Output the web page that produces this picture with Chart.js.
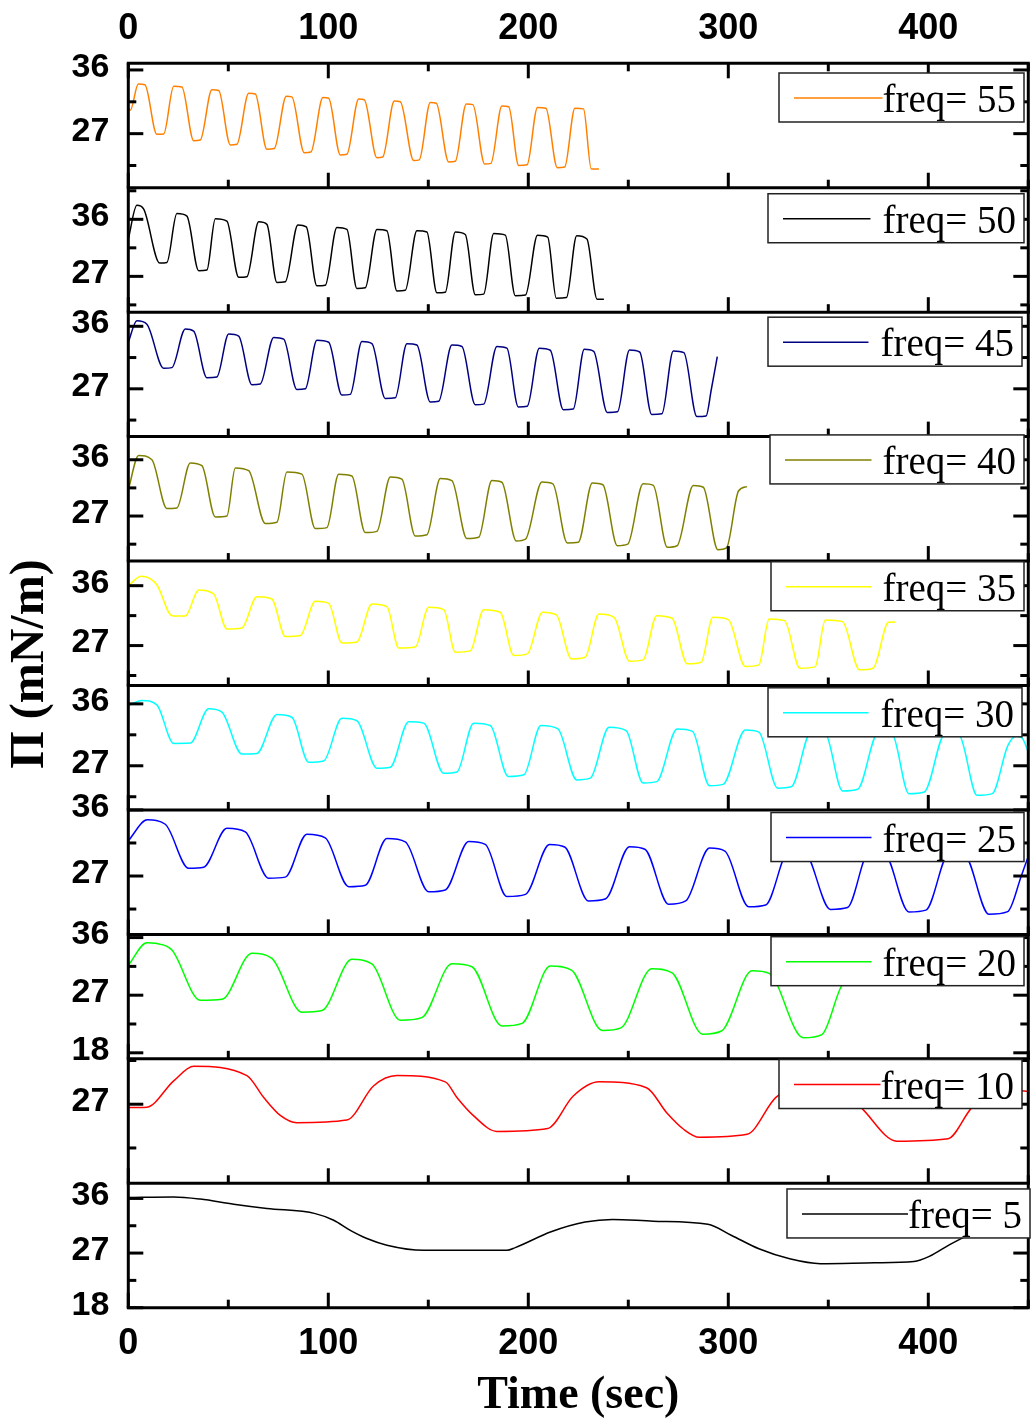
<!DOCTYPE html>
<html>
<head>
<meta charset="utf-8">
<title>Surface pressure vs time</title>
<script src="https://cdn.jsdelivr.net/npm/chart.js@4.4.0/dist/chart.umd.min.js"></script>
<style>
  html, body { margin: 0; padding: 0; background: #fff; }
  #wrap { width: 1033px; height: 1421px; }
</style>
</head>
<body>
<div id="wrap"><canvas id="chart" width="1033" height="1421"></canvas></div>
<script>
// panels, top to bottom
const freqs = [55, 50, 45, 40, 35, 30, 25, 20, 10, 5];
const colors = ['#ff8000', '#000000', '#000080', '#808000', '#ffff00',
                '#00ffff', '#0000ff', '#00ff00', '#ff0000', '#000000'];

// y range of every panel (mN/m)
const yMin = [19.36, 21.35, 20.12, 19.8, 21.0, 20.58, 19.05, 17.06, 18.87, 18.0];
const yMax = [36.94, 40.98, 38.03, 39.7, 39.7, 38.67, 36.0, 36.5, 31.67, 38.5];

const yMarks = [18, 22.5, 27, 31.5, 36, 40.5];
const yLabels = [18, 27, 36];
const xMarks = [0, 50, 100, 150, 200, 250, 300, 350, 400, 450];
const xLabels = [0, 100, 200, 300, 400];

// [time (sec), pressure (mN/m)]
const freq55 = [[0,30.6],[1,30.3],[5,34.0],[8.3,33.9],[14.3,26.9],[17.7,26.95],[22.7,33.7],[26.8,33.6],
  [32.7,26.0],[36,26.1],[41.8,33.2],[45.2,33.1],[51,25.4],[54.3,25.5],[60.2,32.7],[63.5,32.6],
  [69.3,24.8],[73,24.9],[79,32.3],[81.8,32.2],[88,24.3],[91.3,24.4],[97.3,32.1],[100.2,32.0],
  [106,24.0],[109.3,24.1],[115.2,31.9],[118,31.8],[124.3,23.6],[127.2,23.7],[133,31.6],[136,31.5],
  [142.7,23.2],[145.5,23.3],[151,31.4],[154,31.3],[160.2,23.0],[163.5,23.1],[169,31.2],[172.3,31.1],
  [178.2,22.7],[181.3,22.8],[186.8,30.9],[190.2,30.8],[195.2,22.5],[199.4,22.6],[204.6,30.7],[208.8,30.6],
  [214.5,22.2],[218.2,22.3],[223.3,30.6],[227.6,30.5],[231.5,22.0],[235.3,22.0]];

const freq50 = [[0,32.9],[4.3,38.2],[7.7,37.6],[15.7,29.1],[19.3,29.2],[24.3,36.9],[29.3,36.5],
  [35.2,27.9],[39.3,28.0],[43.5,36.1],[49.3,35.7],[55.2,26.85],[59.3,26.95],[65.2,35.6],[69.3,35.2],
  [74.3,26.05],[78.5,26.15],[84.8,35.1],[89,34.8],[94.3,25.5],[98.5,25.6],[104.3,34.7],[109.3,34.4],
  [114.3,25.1],[118.5,25.2],[124.3,34.4],[129.3,34.2],[134.3,24.7],[138.5,24.8],[144.3,34.2],[149.3,34.0],
  [154.3,24.4],[158.5,24.5],[163.5,34.0],[168.5,33.6],[173.5,24.1],[177.7,24.2],[182.7,33.75],[188.5,33.5],
  [193.5,23.95],[198.6,24.05],[204.6,33.5],[209.7,33.2],[214,23.55],[219.1,23.65],[224.2,33.4],[229.3,32.9],
  [234.4,23.4],[237.8,23.4]];

const freq45 = [[0,33.7],[4.3,36.8],[9.3,36.3],[17.7,29.95],[21.8,30.05],[28.5,35.6],[32.7,35.3],
  [39.3,28.6],[44.3,28.7],[50.2,34.9],[55.2,34.6],[61.8,27.6],[66,27.7],[72.7,34.4],[77.7,34.15],
  [84.3,26.9],[88.5,27.0],[94.3,34.0],[100.2,33.7],[106.8,26.1],[111,26.2],[116.8,33.8],[121.8,33.5],
  [128.5,25.6],[133.5,25.7],[139.3,33.5],[144.3,33.3],[151,25.1],[155.2,25.2],[161.8,33.3],[166.8,33.1],
  [173.5,24.7],[177.7,24.8],[184.3,33.1],[189.3,32.85],[195,24.4],[199.5,24.5],[205.5,32.85],[211,32.55],
  [217.5,24.0],[222.5,24.1],[228,32.7],[232.7,32.4],[239.5,23.6],[244.6,23.7],[250.6,32.6],[255.7,32.3],
  [261.7,23.3],[266.8,23.4],[272.5,32.45],[277.8,32.2],[284.3,23.0],[288.9,23.1],[291.5,26.9],[294.5,31.65]];

const freq40 = [[0,31.2],[5.2,36.7],[11.8,36.0],[19.3,28.2],[24.3,28.3],[31,35.5],[36.8,35.05],
  [43.5,26.85],[49.3,27.0],[53.5,34.7],[60.2,34.25],[68.5,25.8],[74.3,26.0],[79.3,34.05],[86.8,33.7],
  [93.5,25.0],[99.3,25.15],[105.2,33.7],[111.8,33.4],[118.5,24.35],[124.3,24.55],[131,33.25],[136.8,32.9],
  [143.5,23.8],[149.3,24.0],[156,33.0],[161.8,32.65],[169.3,23.4],[175.2,23.6],[181.8,32.7],[186.8,32.4],
  [194,23.0],[198.6,23.3],[206.8,32.45],[212.3,32.15],[219.5,22.7],[225,22.8],[232,32.3],[237.3,32.0],
  [244.5,22.25],[249.7,22.5],[257.4,32.15],[262.5,31.9],[269.5,22.0],[274.4,22.25],[282.5,31.9],[287.5,31.6],
  [294.8,21.6],[299.1,21.9],[305.1,31.0],[309.4,31.7]];

const freq35 = [[0,36.0],[6.5,37.4],[14.3,36.1],[21.8,31.5],[28.5,31.45],[35.2,35.35],[42.7,34.75],
  [49.3,29.5],[56.8,29.65],[64.3,34.35],[71.8,34.0],[78.5,28.35],[86,28.5],[93.5,33.65],[100.2,33.35],
  [106.8,27.4],[114.3,27.55],[121.8,33.25],[129.3,32.85],[135.2,26.65],[143.5,26.8],[150.2,32.75],[157.7,32.4],
  [163.5,26.0],[171,26.2],[177.7,32.4],[186,32.0],[192.7,25.5],[199.5,25.75],[207.1,32.0],[214,31.6],
  [221.6,25.0],[228.4,25.25],[235.3,31.75],[242.9,31.25],[250.6,24.65],[257.4,24.85],[264.2,31.5],[271.9,31.1],
  [279.5,24.25],[286.4,24.5],[292.3,31.25],[300,30.9],[308.5,23.85],[315.3,24.1],[320.4,31.0],[328.1,30.75],
  [335.8,23.6],[343.4,23.8],[348.5,30.85],[357.1,30.6],[365.6,23.35],[372.4,23.6],[380.1,30.5],[383.5,30.55]];

const freq30 = [[0,35.75],[6.8,36.5],[14.3,35.85],[22.7,30.25],[31,30.3],[40.2,35.3],[46.8,34.8],
  [56.8,28.7],[64.3,28.8],[74.3,34.45],[81.8,34.05],[90.2,27.5],[97.7,27.7],[106.8,33.9],[114.3,33.55],
  [124.3,26.65],[131,26.8],[140.2,33.4],[147.7,33.2],[157.7,25.9],[164.3,26.1],[172.7,33.2],[181,32.85],
  [190,25.45],[197.8,25.7],[206.3,32.85],[214.8,32.35],[224.2,24.95],[231,25.2],[240.4,32.6],[248.9,32.1],
  [257.4,24.5],[264.2,24.7],[274.4,32.35],[282.1,32.0],[290.6,24.1],[297.4,24.3],[308.5,32.2],[315.3,31.9],
  [324.7,23.75],[331.5,23.95],[341.5,32.0],[348.5,31.7],[357.1,23.35],[364.7,23.6],[375,31.85],[382,31.55],
  [390.3,22.95],[398,23.2],[408.5,31.7],[415.5,31.4],[424.4,22.7],[432,22.95],[439.7,29.9],[444,31.3],
  [447,31.0],[450,29.0]];

const freq25 = [[0,31.8],[9.5,34.65],[18.5,34.05],[30.2,28.05],[37.7,28.2],[49.3,33.5],[58.5,33.0],
  [70.2,26.7],[78.5,26.85],[89.3,32.7],[98.5,32.2],[110.2,25.55],[118.5,25.75],[129.3,32.1],[138.5,31.65],
  [150.2,24.85],[158.5,25.1],[170.2,31.7],[178.5,31.3],[189.3,24.2],[198.6,24.5],[210.6,31.3],[218.2,30.95],
  [230.1,23.6],[238.7,23.9],[250.6,31.0],[258.3,30.65],[270.2,23.15],[278.7,23.6],[290.6,30.8],[298.3,30.4],
  [310.2,22.8],[318.7,23.05],[330.6,30.6],[338.3,30.25],[351.1,22.45],[359.6,22.7],[370.6,30.4],[378.3,30.05],
  [390.3,22.1],[398.8,22.35],[410.6,30.2],[418.3,29.85],[430.3,21.8],[439.7,22.15],[446.5,27.0],[450,29.7]];

const freq20 = [[0,31.67],[9.3,35.2],[13.5,35.1],[21.8,34.05],[36,26.2],[46.8,26.35],[61.8,33.55],
  [71.8,32.75],[86.8,24.35],[96.8,24.6],[111.8,32.6],[121.8,31.9],[136,23.1],[146.8,23.5],[161.8,31.9],
  [171.8,31.45],[186.8,22.2],[196.9,22.6],[211,31.55],[221.6,30.9],[237,21.5],[246.3,21.9],[261.7,31.15],
  [271.9,30.5],[287.2,20.9],[296.6,21.4],[311.9,30.8],[320.4,30.4],[337.5,20.35],[346.8,20.85],[356.2,28.2],
  [361,30.3]];

const freq10 = [[0,26.65],[9.3,26.7],[22.7,29.4],[32.7,30.9],[59.3,29.95],[67.7,27.7],[76,25.85],
  [84.3,25.1],[109.3,25.37],[122.7,28.9],[134.3,29.95],[158.5,29.3],[164.3,27.7],[172.7,25.8],[184.3,24.2],
  [209.7,24.5],[222.5,27.85],[235.3,29.3],[259.1,28.7],[269.3,26.1],[277.8,24.4],[285.5,23.6],[309.4,23.9],
  [323.8,27.7],[336.5,28.9],[357,28.4],[366.4,26.65],[384.3,23.2],[409.9,23.45],[421.8,26.65],[437,28.6],
  [443.5,28.45],[450,28.3]];

const freq5 = [[0,36.15],[22.7,36.25],[36,35.9],[52.7,35.05],[69.3,34.35],[93.5,33.5],[102.7,32.4],
  [111,30.75],[119.3,29.4],[129.3,28.3],[147.7,27.45],[189.3,27.45],[193.5,27.9],[211.4,30.5],[228.4,32.1],
  [242.1,32.55],[262.5,32.25],[289.8,31.75],[301.7,29.9],[315.3,27.7],[330.7,26.05],[346,25.25],[373.2,25.4],
  [392.8,25.6],[400.5,26.45],[410.7,28.4],[420,30.0]];

const series = [freq55, freq50, freq45, freq40, freq35, freq30, freq25, freq20, freq10, freq5];

// legend box placement per panel: left/right edge (px), offset from panel top, gap before text
const legendBoxes = [
  {left: 779, right: 1024, dy: 9.7, gap: 0},
  {left: 768, right: 1024, dy: 6, gap: 12},
  {left: 768, right: 1022, dy: 5, gap: 12},
  {left: 770, right: 1024, dy: -1.7, gap: 11},
  {left: 771, right: 1024, dy: 0.7, gap: 11},
  {left: 768, right: 1022, dy: 2.3, gap: 12},
  {left: 771, right: 1024, dy: 2.6, gap: 11},
  {left: 771, right: 1024, dy: 2.3, gap: 11},
  {left: 779, right: 1022, dy: 0.7, gap: 0},
  {left: 787, right: 1030, dy: 5.7, gap: 0}
];

const panelIds = freqs.map((f, i) => 'y' + i);
const SANS = '"Liberation Sans", Arial, sans-serif';
const SERIF = '"Liberation Serif", "Times New Roman", serif';

Chart.defaults.font.family = SANS;
Chart.defaults.color = '#000';

function line(ctx, x1, y1, x2, y2) {
  ctx.beginPath();
  ctx.moveTo(x1, y1);
  ctx.lineTo(x2, y2);
  ctx.stroke();
}

// frame, inward tick marks, per-panel legends and the y title
const framePlugin = {
  id: 'frame',
  afterDatasetsDraw(chart) {
    const ctx = chart.ctx;
    const xs = chart.scales.x;
    const left = xs.left, right = xs.right;
    const area = chart.chartArea;
    ctx.save();
    ctx.strokeStyle = '#000';
    ctx.lineWidth = 3;
    ctx.lineCap = 'butt';

    panelIds.forEach((id, i) => {
      const ys = chart.scales[id];
      xMarks.forEach(v => {
        const px = xs.getPixelForValue(v);
        const len = xLabels.includes(v) ? 15 : 8;
        line(ctx, px, ys.bottom, px, ys.bottom - len);
        if (i === 0) line(ctx, px, ys.top, px, ys.top + len);
      });
      yMarks.forEach(v => {
        if (v < ys.min || v > ys.max) return;
        const py = ys.getPixelForValue(v);
        const len = yLabels.includes(v) ? 15 : 8;
        line(ctx, left, py, left + len, py);
        line(ctx, right, py, right - len, py);
      });
      line(ctx, left - 1.5, ys.bottom, right + 1.5, ys.bottom);
    });
    line(ctx, left - 1.5, area.top, right + 1.5, area.top);
    line(ctx, left, area.top, left, area.bottom);
    line(ctx, right, area.top, right, area.bottom);

    // legends
    chart.data.datasets.forEach((ds, i) => {
      const ys = chart.scales[ds.yAxisID];
      const b = legendBoxes[i];
      const top = ys.top + b.dy;
      const h = 49;
      ctx.fillStyle = '#fff';
      ctx.fillRect(b.left, top, b.right - b.left, h);
      ctx.lineWidth = 1.5;
      ctx.strokeStyle = '#222';
      ctx.strokeRect(b.left, top, b.right - b.left, h);
      ctx.font = '39px ' + SERIF;
      ctx.textAlign = 'left';
      ctx.textBaseline = 'alphabetic';
      const tw = ctx.measureText(ds.label).width;
      const tx = b.right - 8 - tw;
      ctx.fillStyle = '#000';
      ctx.fillText(ds.label, tx, top + 39);
      ctx.strokeStyle = ds.borderColor;
      ctx.lineWidth = 1.5;
      line(ctx, b.left + 15, top + 25, tx - b.gap, top + 25);
    });

    // y axis title
    ctx.translate(31, 664);
    ctx.rotate(-Math.PI / 2);
    ctx.font = 'bold 48px ' + SERIF;
    ctx.fillStyle = '#000';
    ctx.textAlign = 'center';
    ctx.textBaseline = 'middle';
    ctx.fillText('\u03A0 (mN/m)', 0, 0);
    ctx.restore();
  }
};

const xAxis = (position, height, pad) => ({
  type: 'linear',
  position: position,
  min: 0,
  max: 450,
  bounds: 'data',
  grid: {display: false, drawTicks: false},
  border: {display: false},
  afterBuildTicks: s => { s.ticks = xLabels.map(v => ({value: v})); },
  afterFit: s => { s.height = height; },
  ticks: {font: {size: 36, weight: 'bold'}, padding: pad, maxRotation: 0, autoSkip: false}
});

const scales = {
  x: Object.assign(xAxis('bottom', 113.3, 15), {
    title: {
      display: true,
      text: 'Time (sec)',
      font: {family: SERIF, size: 46, weight: 'bold', lineHeight: 1.1},
      padding: 0
    }
  }),
  xTop: xAxis('top', 63.3, 13)
};

panelIds.forEach((id, i) => {
  scales[id] = {
    type: 'linear',
    position: 'left',
    stack: 'panels',
    stackWeight: 1,
    weight: freqs.length - i,
    min: yMin[i],
    max: yMax[i],
    bounds: 'data',
    grid: {display: false, drawTicks: false},
    border: {display: false},
    afterBuildTicks: s => {
      s.ticks = yMarks.filter(v => v >= s.min && v <= s.max).map(v => ({value: v}));
    },
    afterFit: s => { s.width = 128.3; },
    ticks: {
      font: {size: 34, weight: 'bold'},
      padding: 19,
      labelOffset: -2.5,
      autoSkip: false,
      callback: v => yLabels.includes(v) ? String(v) : ''
    }
  };
});

const datasets = series.map((pts, i) => ({
  label: 'freq= ' + freqs[i],
  data: pts.map(p => ({x: p[0], y: p[1]})),
  borderColor: colors[i],
  borderWidth: 1.5,
  pointRadius: 0,
  fill: false,
  cubicInterpolationMode: 'monotone',
  xAxisID: 'x',
  yAxisID: panelIds[i]
}));

new Chart(document.getElementById('chart'), {
  type: 'line',
  data: {datasets: datasets},
  options: {
    responsive: false,
    animation: false,
    events: [],
    parsing: true,
    layout: {padding: {left: 0, right: 4.7, top: 0, bottom: 0}},
    plugins: {legend: {display: false}, tooltip: {enabled: false}},
    scales: scales
  },
  plugins: [framePlugin]
});
</script>
</body>
</html>
